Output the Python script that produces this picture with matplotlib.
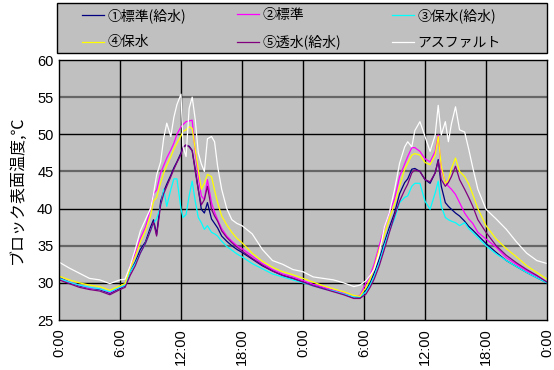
import matplotlib
matplotlib.use("Agg")
import matplotlib.pyplot as plt
from matplotlib.patches import Rectangle

# elapsed time in hours from midnight of day 1
hours = [0, 1, 2, 3, 4, 5, 6, 6.5,
         7, 7.5, 8, 8.5, 9, 9.3, 9.6, 10, 10.3, 10.6,
         11, 11.3, 11.6, 12, 12.2, 12.5, 12.8, 13.1, 13.4, 13.7,
         14, 14.3, 14.6, 15, 15.3, 15.6, 16, 16.5, 17, 17.5,
         18, 19, 20, 21, 22, 23, 24,
         25, 26, 27, 28, 29, 29.6, 30.2,
         30.6, 31, 31.5, 32, 32.5, 33, 33.5, 34, 34.3, 34.7,
         35, 35.5, 36, 36.5, 37, 37.3, 37.6, 38, 38.3, 38.6,
         39, 39.4, 39.9, 40.3, 40.7, 41.2, 42, 43, 44, 45,
         46, 47, 48]

std_water = [30.7, 30.1, 29.6, 29.3, 29.1, 28.6, 29.3, 29.6,
             31.5, 32.8, 34.5, 35.5, 37.5, 38.5, 36.5, 41.0, 42.3, 43.3,
             44.5, 45.5, 46.3, 47.5, 48.3, 48.5, 48.4, 47.8, 45.3, 42.6,
             39.9, 39.4, 40.8, 38.6, 38.0, 37.4, 36.3, 35.6, 35.0, 34.5,
             34.1, 33.2, 32.3, 31.6, 31.0, 30.6, 30.1,
             29.7, 29.3, 28.9, 28.5, 28.0, 28.0, 29.0,
             30.0, 31.3, 33.2, 35.4, 37.5, 39.4, 42.0, 43.5, 44.0, 45.3,
             45.4, 45.0, 43.9, 43.4, 44.8, 46.6, 43.0, 40.8, 40.3, 39.9,
             39.4, 39.0, 38.3, 37.6, 37.1, 36.4, 35.3, 34.1, 33.0, 32.2,
             31.4, 30.7, 30.0]

std = [30.6, 30.1, 29.7, 29.3, 29.2, 28.7, 29.4, 29.7,
       32.3, 34.0, 36.0, 37.5, 40.0, 42.0, 42.5, 44.8, 45.8, 46.8,
       47.9, 48.8, 50.0, 51.0, 51.3, 51.7, 51.8, 51.9, 47.5, 44.3,
       41.7, 41.2, 43.9, 40.8, 39.5, 38.5, 37.3, 36.3, 35.6, 35.0,
       34.6, 33.6, 32.6, 31.8, 31.2, 30.8, 30.3,
       29.8, 29.4, 29.0, 28.6, 28.1, 28.3, 30.0,
       31.0, 32.5, 35.0, 37.4, 39.5, 41.3, 44.3, 46.0, 47.0, 48.2,
       48.2, 47.7, 46.7, 46.3, 47.7, 49.9, 45.2, 43.6, 43.0, 42.6,
       41.9, 40.8, 39.4, 38.6, 38.0, 36.8, 35.9, 34.8, 33.4, 32.5,
       31.6, 30.9, 30.1]

ret_water = [30.6, 30.1, 29.7, 29.4, 29.2, 28.8, 29.4, 29.7,
             31.5, 32.6, 34.0, 35.3, 37.0, 38.0, 38.6, 40.3, 42.6, 40.3,
             42.6, 44.0, 44.0, 39.9, 38.8, 39.2, 41.7, 43.7, 41.0, 38.8,
             38.1, 37.2, 37.7, 36.8, 36.6, 36.3, 35.6, 34.9, 34.4, 33.9,
             33.5, 32.6, 31.9, 31.2, 30.8, 30.4, 30.0,
             29.6, 29.2, 28.9, 28.5, 28.1, 28.1, 28.8,
             29.7, 30.9, 32.7, 35.0, 37.0, 38.6, 40.8, 41.5, 41.7, 43.0,
             43.4, 43.4, 41.0, 39.9, 42.1, 43.7, 40.3, 38.8, 38.5, 38.3,
             38.1, 37.7, 38.1, 37.3, 36.8, 36.1, 35.0, 33.9, 33.0, 32.2,
             31.4, 30.7, 30.0]

ret = [30.9, 30.4, 30.0, 29.7, 29.5, 29.0, 29.6, 29.9,
       32.0, 33.5, 35.5, 37.0, 39.0, 41.0, 41.5, 43.5, 44.8, 45.8,
       47.0, 48.0, 48.8, 49.8, 50.4, 50.6, 51.0, 50.8, 48.0, 45.2,
       42.6, 43.4, 44.6, 44.3, 42.5, 40.8, 39.0, 37.8, 36.8, 36.0,
       35.4, 34.0, 32.9, 32.1, 31.5, 31.1, 30.6,
       30.1, 29.6, 29.2, 28.8, 28.3, 28.2, 29.4,
       30.5, 32.0, 34.5, 36.5, 38.7, 40.6, 43.0, 45.3, 46.1, 47.2,
       47.4, 47.2, 46.2, 45.9, 47.2, 49.7, 45.7, 43.4, 43.8, 45.4,
       46.8, 45.0, 44.3, 43.3, 41.9, 40.0, 37.7, 35.9, 34.6, 33.5,
       32.3, 31.4, 30.5]

perm_water = [30.4, 29.9, 29.4, 29.1, 28.9, 28.4, 29.1, 29.4,
              31.0, 32.3, 34.0, 35.3, 37.0, 38.2, 36.3, 40.5, 42.0, 43.0,
              44.3, 45.3, 46.2, 47.3, 48.2, 48.6, 48.3, 47.8, 45.0, 42.5,
              40.5, 41.2, 43.0, 39.9, 39.0, 38.3, 37.0, 36.1, 35.4, 34.8,
              34.3, 33.3, 32.4, 31.6, 31.0, 30.6, 30.1,
              29.6, 29.2, 28.8, 28.4, 27.9, 27.9, 28.5,
              29.4, 30.5, 32.3, 34.5, 36.8, 39.0, 41.0, 42.5, 43.3, 44.8,
              45.2, 45.0, 43.9, 43.6, 44.8, 46.4, 43.9, 43.0, 43.5, 44.3,
              45.7, 43.9, 42.6, 41.5, 40.3, 38.5, 36.8, 35.0, 33.7, 32.7,
              31.8, 31.0, 30.1]

asphalt = [32.8, 32.0, 31.3, 30.6, 30.4, 29.9, 30.4, 30.5,
           32.3, 34.5, 37.0, 38.5, 40.0, 42.0, 44.5, 46.3, 49.5, 51.5,
           49.7, 52.3, 54.0, 55.4, 48.3, 47.0, 53.5, 55.0, 52.0, 47.5,
           46.0, 45.0, 49.4, 49.7, 49.0, 45.7, 42.6, 40.0, 38.5, 38.0,
           37.7, 36.6, 34.5, 33.0, 32.5, 31.8, 31.5,
           30.8, 30.6, 30.4, 30.0, 29.5, 29.7, 30.3,
           31.0, 31.8, 34.0, 37.5, 39.5, 42.5, 46.1, 48.3, 49.0, 48.3,
           50.5, 51.7, 49.7, 47.7, 49.9, 53.9, 49.9, 51.7, 49.0, 51.4,
           53.7, 50.6, 50.3, 48.0, 45.5, 42.6, 39.9, 38.6, 37.2, 35.5,
           34.0, 33.0, 32.6]

labels = ["①標準(給水)", "②標準", "③保水(給水)", "④保水", "⑤透水(給水)", "アスファルト"]
series = [std_water, std, ret_water, ret, perm_water, asphalt]
colors = ["#000080", "#ff00ff", "#00ffff", "#ffff00", "#800080", "#ffffff"]

tick_hours = [0, 6, 12, 18, 24, 30, 36, 42, 48]
tick_labels = ["0:00", "6:00", "12:00", "18:00", "0:00", "6:00", "12:00", "18:00", "0:00"]

jp = ["Noto Sans CJK JP", "DejaVu Sans"]
plt.rcParams["font.family"] = ["Liberation Sans", "Noto Sans CJK JP"]

W, H = 554, 370
fig = plt.figure(figsize=(W / 100, H / 100), dpi=100)
ax = fig.add_axes([59 / W, 1 - 320 / H, 488 / W, 260 / H])
ax.set_facecolor("#c0c0c0")

# grid: black every 10 degC, grey in between, black every 6 h
for v in [30, 40, 50]:
    ax.axhline(v, color="black", lw=1.0, zorder=1)
for v in [35, 45, 55]:
    ax.axhline(v, color="#666666", lw=1.6, zorder=1)
for h in tick_hours[1:-1]:
    ax.axvline(h, color="black", lw=1.0, zorder=1)

lines = []
for y, c, lab in zip(series, colors, labels):
    ln, = ax.plot(hours, y, color=c, lw=0.9, label=lab, zorder=2)
    lines.append(ln)

ax.set_xlim(0, 48)
ax.set_ylim(25, 60)
ax.set_yticks(range(25, 61, 5))
ax.set_xticks(tick_hours)
ax.set_xticklabels(tick_labels, rotation=90, va="top")
ax.tick_params(axis="both", length=0, labelsize=10.5, pad=6)
ax.tick_params(axis="y", pad=4)
for s in ax.spines.values():
    s.set_color("black")
    s.set_linewidth(1.0)

ax.set_ylabel("ブロック表面温度,℃", family=jp, fontsize=11.5, labelpad=8)

# legend box across the top
fig.patches.append(Rectangle((57 / W, 1 - 53 / H), 490 / W, 50 / H,
                             transform=fig.transFigure, facecolor="#c0c0c0",
                             edgecolor="black", lw=1.0, zorder=0))

# one small legend per column: (1,4), (2,5), (3,asphalt)
col_x = [82, 237, 392]
for k, x0 in enumerate(col_x):
    idx = [k, k + 3]
    fig.legend([lines[i] for i in idx], [labels[i] for i in idx],
               loc="upper left", bbox_to_anchor=(x0 / W, 1 - 8 / H),
               frameon=False, prop={"family": jp, "size": 10},
               handlelength=1.6, handletextpad=0.25, borderaxespad=0,
               borderpad=0, labelspacing=0.9)

fig.savefig("out.png", dpi=100)
